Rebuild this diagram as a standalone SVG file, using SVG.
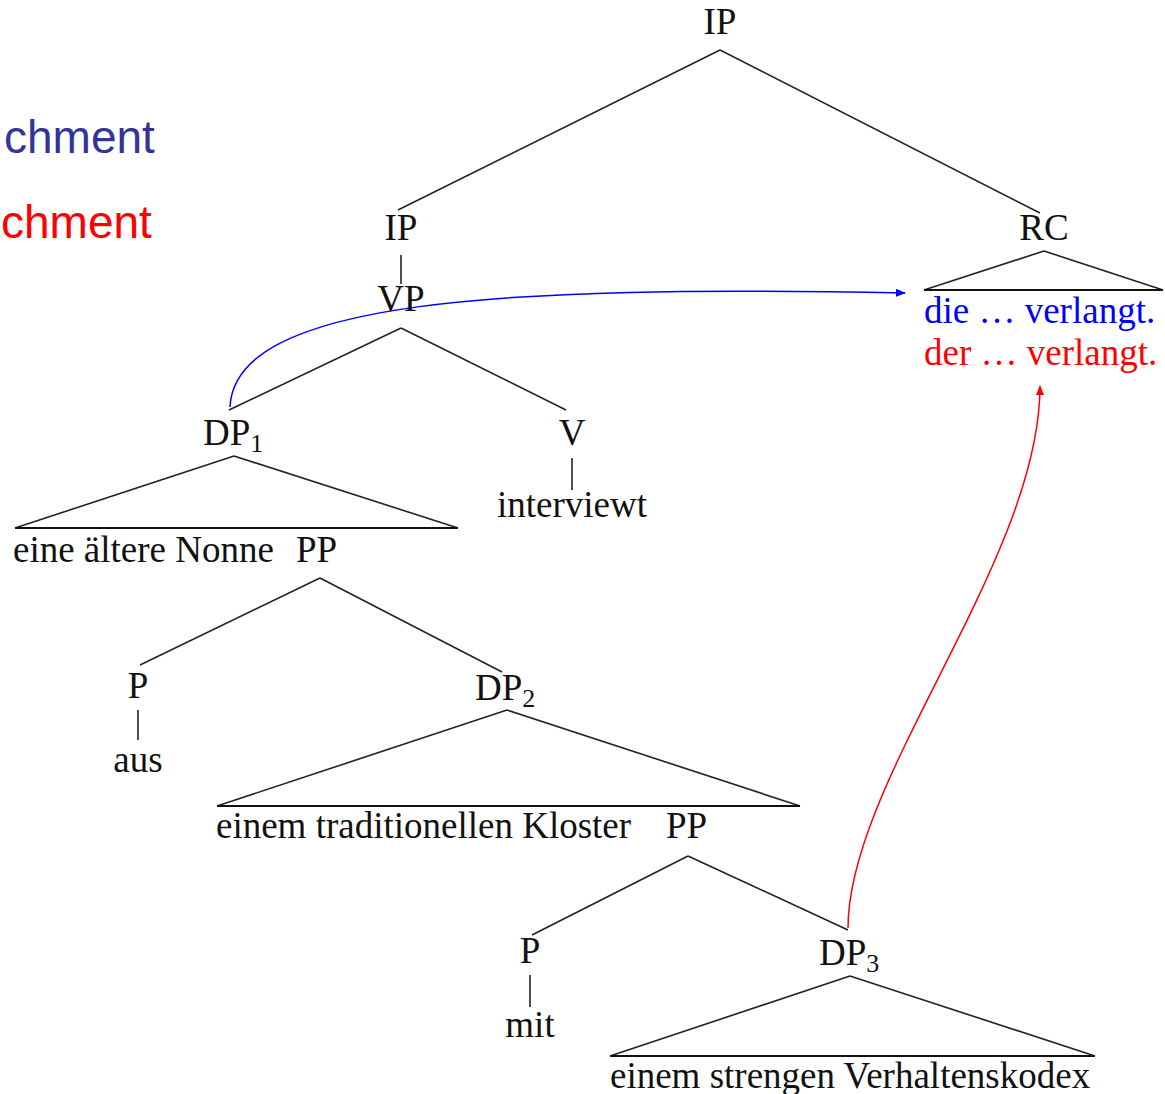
<svg xmlns="http://www.w3.org/2000/svg" width="1165" height="1094" viewBox="0 0 1165 1094">
<style>
text{font-family:"Liberation Serif","Times New Roman",serif;font-size:37px;fill:#111}
.c{text-anchor:middle}
.sub{font-size:26px}
.slide{font-family:"Liberation Sans",Arial,sans-serif;font-size:46px}
.e{stroke:#222;stroke-width:1.6;fill:none}
.b{stroke:#111;stroke-width:2.2;fill:none}
</style>
<defs>
<marker id="ab" markerWidth="10" markerHeight="8" refX="9" refY="4" orient="auto" markerUnits="userSpaceOnUse"><path d="M0,0 L10,4 L0,8 Z" fill="#0000ff"/></marker>
<marker id="ar" markerWidth="10" markerHeight="8" refX="9" refY="4" orient="auto" markerUnits="userSpaceOnUse"><path d="M0,0 L10,4 L0,8 Z" fill="#ff0000"/></marker>
</defs>
<rect width="1165" height="1094" fill="#fff"/>
<g id="slide-labels">
<text class="slide" x="4" y="153" style="fill:#333399">chment</text>
<text class="slide" x="1" y="238" style="fill:#ff0000">chment</text>
</g>

<g id="edges">
<path class="e" d="M720,50 L398,210 M720,50 L1040,213"/>
<path class="e" d="M401,255 L401,284"/>
<path class="e" d="M401,328 L229,410 M401,328 L566,410"/>
<path class="e" d="M572,458 L572,490"/>
<path class="e" d="M234,456 L15,528 M234,456 L458,528"/><path class="b" d="M15,528 L458,528"/>
<path class="e" d="M320,578 L140,665 M320,578 L502,672"/>
<path class="e" d="M138,710 L138,740"/>
<path class="e" d="M507,710 L217,806 M507,710 L800,806"/><path class="b" d="M217,806 L800,806"/>
<path class="e" d="M688,856 L532,935 M688,856 L848,930"/>
<path class="e" d="M530,975 L530,1007"/>
<path class="e" d="M850,976 L610,1056 M850,976 L1095,1056"/><path class="b" d="M610,1056 L1095,1056"/>
<path class="e" d="M1044,251 L924,290 M1044,251 L1163,290"/><path class="b" d="M924,290 L1163,290"/>
<path d="M230,407 C235,300 500,285 905,293" stroke="#0000ff" stroke-width="1.5" fill="none" marker-end="url(#ab)"/>
<path d="M848,928 C848,780 1040,560 1040,386" stroke="#ff0000" stroke-width="1.5" fill="none" marker-end="url(#ar)"/>
</g>

<g id="ip-top"><text class="c" x="720" y="34">IP</text></g>
<g id="ip"><text class="c" x="401" y="240">IP</text></g>
<g id="vp"><text class="c" x="401" y="311">VP</text></g>
<g id="rc"><text class="c" x="1044" y="240">RC</text></g>
<g id="rc-text">
<text x="924" y="323" style="fill:#0000ff">die … verlangt.</text>
<text x="924" y="365" style="fill:#ff0000">der … verlangt.</text>
</g>
<g id="dp1"><text x="203" y="445">DP<tspan class="sub" dy="7">1</tspan></text></g>
<g id="v"><text class="c" x="572" y="445">V</text></g>
<g id="interviewt"><text class="c" x="572" y="517">interviewt</text></g>
<g id="dp1-text"><text x="13" y="562">eine ältere Nonne</text></g>
<g id="pp1"><text x="296" y="562">PP</text></g>
<g id="p1"><text class="c" x="138" y="698">P</text></g>
<g id="aus"><text class="c" x="138" y="772">aus</text></g>
<g id="dp2"><text x="475" y="700">DP<tspan class="sub" dy="7">2</tspan></text></g>
<g id="dp2-text"><text x="216" y="838">einem traditionellen Kloster</text></g>
<g id="pp2"><text x="666" y="838">PP</text></g>
<g id="p2"><text class="c" x="530" y="963">P</text></g>
<g id="mit"><text class="c" x="530" y="1037">mit</text></g>
<g id="dp3"><text x="819" y="965">DP<tspan class="sub" dy="7">3</tspan></text></g>
<g id="dp3-text"><text x="610" y="1088">einem strengen Verhaltenskodex</text></g>
</svg>
